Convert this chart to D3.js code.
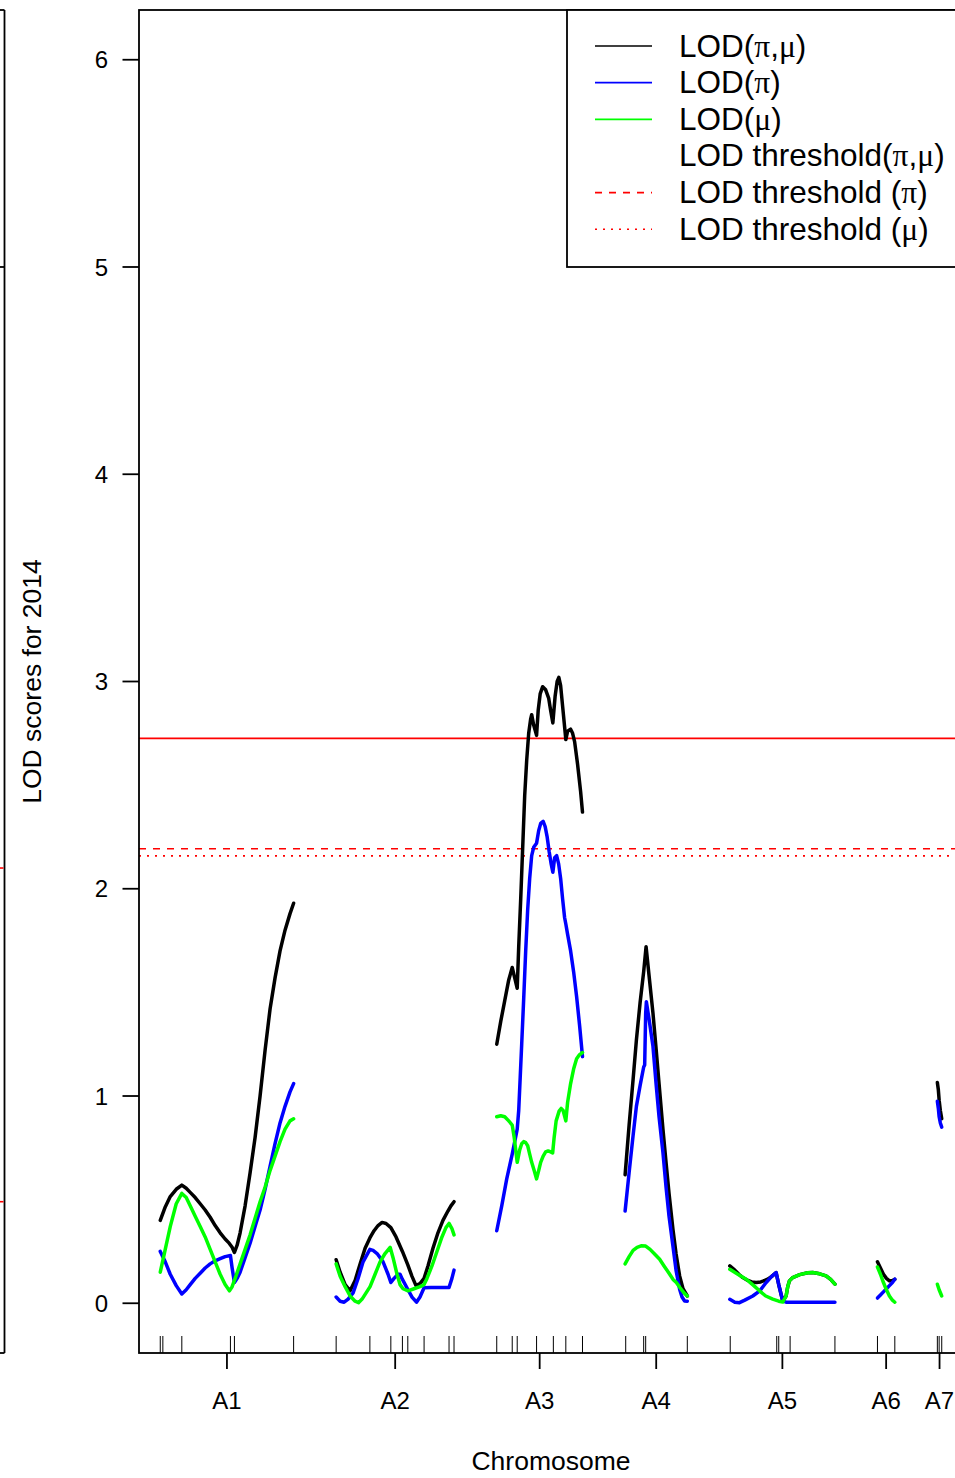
<!DOCTYPE html>
<html><head><meta charset="utf-8">
<script src="https://cdn.jsdelivr.net/npm/d3@7"></script>
<style>
html,body{margin:0;padding:0;background:#fff;}
svg{display:block;font-family:"Liberation Sans",Arial,Helvetica,sans-serif;}
</style></head><body>
<svg id="chart" width="955" height="1478"></svg>
<script>
// ---- genetic map ----
const chromosomes = ["A1","A2","A3","A4","A5","A6","A7"];
const chromLengths = [133.6, 118.3, 86.0, 62.3, 105.3, 17.4, 4.4];   // cM
const markers = [
  ["A1",0],["A1",2.6],["A1",21.6],["A1",70.3],["A1",74.3],["A1",133.6],
  ["A2",0],["A2",33.8],["A2",54.8],["A2",66.4],["A2",71.8],["A2",88.1],["A2",113.1],["A2",118.1],
  ["A3",0],["A3",15.5],["A3",20.5],["A3",39.9],["A3",56.7],["A3",69.2],["A3",85.9],
  ["A4",0.6],["A4",18.6],["A4",20.6],["A4",62.3],
  ["A5",0.4],["A5",47],["A5",49],["A5",60.4],["A5",105.3],
  ["A6",0],["A6",17.4],
  ["A7",0],["A7",1.8],["A7",4.4]
];

// ---- LOD profiles: [chromosome, position (cM), LOD] ----
const lodPiMu = [
  ["A1",0,0.40],["A1",5,0.465],["A1",10,0.515],["A1",16,0.55],["A1",21.6,0.57],["A1",26,0.555],["A1",30,0.535],["A1",35,0.51],["A1",40,0.48],["A1",45,0.45],["A1",50,0.415],["A1",55,0.375],["A1",60,0.34],["A1",65,0.31],["A1",69,0.29],["A1",72,0.27],["A1",74.3,0.245],["A1",77,0.28],["A1",80,0.34],["A1",85,0.47],["A1",90,0.63],["A1",95,0.80],["A1",100,1.0],["A1",105,1.22],["A1",110,1.42],["A1",115,1.57],["A1",120,1.70],["A1",125,1.80],["A1",130,1.88],["A1",133.6,1.93],
  ["A2",0,0.21],["A2",4,0.15],["A2",9,0.09],["A2",14,0.06],["A2",19,0.11],["A2",24,0.19],["A2",29,0.265],["A2",33.8,0.315],["A2",38,0.35],["A2",42,0.375],["A2",46,0.39],["A2",50,0.385],["A2",54.8,0.365],["A2",60,0.32],["A2",66.4,0.25],["A2",71.8,0.185],["A2",76,0.13],["A2",80,0.085],["A2",84,0.095],["A2",88.1,0.12],["A2",92,0.18],["A2",97,0.265],["A2",102,0.34],["A2",107,0.40],["A2",112,0.445],["A2",115,0.47],["A2",118.1,0.49],
  ["A3",0,1.25],["A3",4,1.36],["A3",8,1.46],["A3",12,1.56],["A3",15.5,1.62],["A3",18,1.57],["A3",20.5,1.52],["A3",22,1.72],["A3",24,1.95],["A3",26,2.2],["A3",28,2.45],["A3",30,2.62],["A3",32,2.75],["A3",34,2.82],["A3",35,2.84],["A3",37,2.79],["A3",39.9,2.74],["A3",41.5,2.86],["A3",43.5,2.94],["A3",46,2.975],["A3",49,2.96],["A3",52,2.92],["A3",54,2.86],["A3",56.2,2.80],["A3",58.5,2.93],["A3",60.5,3.0],["A3",62.2,3.02],["A3",64,2.98],["A3",66,2.88],["A3",69.2,2.72],["A3",71,2.76],["A3",74,2.77],["A3",76,2.75],["A3",78,2.71],["A3",81,2.6],["A3",84,2.47],["A3",85.9,2.37],
  ["A4",0,0.62],["A4",4,0.86],["A4",8,1.08],["A4",11.3,1.27],["A4",15,1.45],["A4",18.6,1.6],["A4",21,1.72],["A4",24,1.58],["A4",27.9,1.40],["A4",31,1.23],["A4",34,1.06],["A4",37.9,0.84],["A4",41,0.68],["A4",44,0.53],["A4",47.9,0.357],["A4",51,0.24],["A4",54.6,0.132],["A4",58,0.07],["A4",62.3,0.035],
  ["A5",0,0.18],["A5",5,0.16],["A5",9,0.14],["A5",13,0.124],["A5",18,0.11],["A5",22,0.103],["A5",26.4,0.10],["A5",31,0.103],["A5",35,0.11],["A5",38,0.116],["A5",42,0.13],["A5",46.4,0.148],["A5",49,0.09],["A5",53,0.011],["A5",56.4,0.035],["A5",58,0.08],["A5",59.7,0.108],["A5",63,0.124],["A5",70,0.138],["A5",78,0.147],["A5",83,0.148],["A5",90,0.142],["A5",96.4,0.132],["A5",101,0.115],["A5",105.3,0.092],
  ["A6",0,0.2],["A6",3,0.17],["A6",6,0.14],["A6",9,0.12],["A6",12,0.108],["A6",15,0.11],["A6",17.4,0.116],
  ["A7",0,1.065],["A7",1,1.03],["A7",1.8,0.98],["A7",3,0.93],["A7",4.4,0.89]
];
const lodPi = [
  ["A1",0,0.25],["A1",5,0.20],["A1",10,0.14],["A1",16,0.085],["A1",21.6,0.045],["A1",26,0.065],["A1",30,0.09],["A1",35,0.12],["A1",40,0.145],["A1",45,0.17],["A1",50,0.19],["A1",55,0.205],["A1",60,0.215],["A1",65,0.225],["A1",70.3,0.23],["A1",72,0.17],["A1",74.3,0.10],["A1",77,0.12],["A1",80,0.15],["A1",85,0.22],["A1",90,0.29],["A1",95,0.37],["A1",100,0.45],["A1",105,0.55],["A1",110,0.66],["A1",115,0.77],["A1",120,0.87],["A1",125,0.95],["A1",130,1.02],["A1",133.6,1.06],
  ["A2",0,0.03],["A2",4,0.01],["A2",8,0.005],["A2",12,0.02],["A2",17,0.05],["A2",22,0.12],["A2",27,0.20],["A2",33.8,0.26],["A2",37,0.255],["A2",41,0.24],["A2",47,0.20],["A2",52,0.14],["A2",54.8,0.10],["A2",58,0.12],["A2",62,0.14],["A2",64,0.14],["A2",66.4,0.115],["A2",72,0.065],["A2",76,0.03],["A2",80.5,0.005],["A2",84,0.03],["A2",88.1,0.075],["A2",95,0.076],["A2",105,0.076],["A2",113.1,0.076],["A2",116,0.12],["A2",118.1,0.16],
  ["A3",0,0.35],["A3",5,0.47],["A3",10,0.6],["A3",15.5,0.72],["A3",20.5,0.84],["A3",22,0.93],["A3",23.5,1.09],["A3",25,1.25],["A3",27,1.47],["A3",29,1.7],["A3",31,1.9],["A3",33,2.05],["A3",35,2.16],["A3",37,2.2],["A3",39.9,2.22],["A3",42,2.28],["A3",44,2.315],["A3",46.5,2.325],["A3",48.5,2.3],["A3",50.5,2.25],["A3",52.5,2.18],["A3",54.5,2.12],["A3",56.2,2.08],["A3",58,2.15],["A3",60,2.16],["A3",62,2.12],["A3",64,2.05],["A3",66,1.95],["A3",68,1.86],["A3",69.2,1.83],["A3",71,1.78],["A3",74,1.7],["A3",77,1.6],["A3",80,1.48],["A3",83,1.34],["A3",85.9,1.19],
  ["A4",0,0.445],["A4",4,0.63],["A4",8,0.81],["A4",11.3,0.95],["A4",15,1.05],["A4",18.6,1.14],["A4",19.6,1.15],["A4",20.6,1.40],["A4",21.3,1.455],["A4",24,1.37],["A4",27.9,1.24],["A4",31,1.06],["A4",34,0.9],["A4",37.9,0.727],["A4",41,0.56],["A4",44,0.42],["A4",47.9,0.276],["A4",51,0.16],["A4",54.6,0.068],["A4",57,0.03],["A4",59.6,0.011],["A4",62.3,0.01],
  ["A5",0,0.019],["A5",5,0.005],["A5",9.7,0.003],["A5",15,0.015],["A5",23,0.035],["A5",30,0.06],["A5",36.4,0.10],["A5",42,0.13],["A5",46.4,0.148],["A5",49,0.09],["A5",53,0.011],["A5",56.4,0.005],["A5",70,0.005],["A5",85,0.005],["A5",105.3,0.005],
  ["A6",0,0.025],["A6",3,0.04],["A6",6,0.055],["A6",9,0.07],["A6",12,0.085],["A6",15,0.1],["A6",17.4,0.116],
  ["A7",0,0.975],["A7",1,0.94],["A7",1.8,0.90],["A7",3,0.87],["A7",4.4,0.85]
];
const lodMu = [
  ["A1",0,0.15],["A1",5,0.26],["A1",10,0.37],["A1",16,0.48],["A1",21.6,0.53],["A1",26,0.51],["A1",30,0.47],["A1",35,0.42],["A1",40,0.37],["A1",45,0.32],["A1",50,0.26],["A1",55,0.20],["A1",60,0.14],["A1",65,0.09],["A1",69.3,0.06],["A1",72,0.08],["A1",75,0.12],["A1",80,0.19],["A1",85,0.26],["A1",90,0.33],["A1",95,0.41],["A1",100,0.49],["A1",105,0.56],["A1",110,0.64],["A1",115,0.71],["A1",120,0.78],["A1",125,0.84],["A1",130,0.88],["A1",133.6,0.89],
  ["A2",0,0.19],["A2",4,0.13],["A2",9,0.08],["A2",14,0.035],["A2",19,0.01],["A2",22.4,0.003],["A2",26,0.02],["A2",30,0.05],["A2",34,0.08],["A2",39,0.14],["A2",44,0.2],["A2",49,0.24],["A2",54.1,0.27],["A2",57,0.22],["A2",61,0.14],["A2",64,0.09],["A2",67,0.07],["A2",72,0.06],["A2",78,0.07],["A2",84,0.08],["A2",88.1,0.09],["A2",91,0.12],["A2",96,0.18],["A2",101,0.25],["A2",106,0.32],["A2",110,0.365],["A2",113.1,0.385],["A2",116,0.36],["A2",118.1,0.33],
  ["A3",0,0.90],["A3",4,0.905],["A3",8,0.90],["A3",12,0.88],["A3",15.5,0.86],["A3",17.5,0.80],["A3",20.5,0.68],["A3",23,0.74],["A3",25,0.77],["A3",27,0.78],["A3",29,0.775],["A3",31,0.76],["A3",33,0.72],["A3",35,0.68],["A3",37.5,0.64],["A3",39.9,0.60],["A3",42,0.64],["A3",44,0.68],["A3",46.5,0.71],["A3",49,0.73],["A3",51.5,0.735],["A3",54,0.73],["A3",56,0.725],["A3",57.5,0.80],["A3",59.5,0.88],["A3",62.5,0.927],["A3",64.5,0.94],["A3",66.5,0.93],["A3",69.2,0.88],["A3",71,0.97],["A3",74,1.06],["A3",77,1.13],["A3",80,1.18],["A3",83,1.2],["A3",85.9,1.21],
  ["A4",0,0.19],["A4",4,0.225],["A4",8,0.255],["A4",12,0.27],["A4",16,0.277],["A4",20.6,0.276],["A4",25,0.26],["A4",30,0.235],["A4",34.6,0.212],["A4",39,0.18],["A4",44,0.145],["A4",48,0.115],["A4",51.3,0.10],["A4",55,0.075],["A4",59,0.05],["A4",62.3,0.035],
  ["A5",0,0.164],["A5",8,0.14],["A5",16.4,0.116],["A5",24,0.085],["A5",29.7,0.06],["A5",36,0.035],["A5",43,0.02],["A5",49,0.01],["A5",53,0.006],["A5",56.4,0.035],["A5",58,0.08],["A5",59.7,0.108],["A5",63,0.124],["A5",70,0.138],["A5",78,0.147],["A5",83,0.148],["A5",90,0.142],["A5",96.4,0.132],["A5",101,0.115],["A5",105.3,0.092],
  ["A6",0,0.175],["A6",3,0.14],["A6",6,0.1],["A6",9,0.065],["A6",12,0.035],["A6",15,0.015],["A6",17.4,0.005],
  ["A7",0,0.092],["A7",1.8,0.065],["A7",4.4,0.035]
];

// ---- genome-wide thresholds ----
const thresholdPiMu = 2.726;
const thresholdPi = 2.193;
const thresholdMu = 2.159;
// thresholds of the neighbouring panel, whose right edge shows at the left
const neighbourThresholds = [2.10, 0.49];

const yTicks = [0, 1, 2, 3, 4, 5, 6];
const legendLabels = ["LOD(π,μ)", "LOD(π)", "LOD(μ)", "LOD threshold(π,μ)", "LOD threshold (π)", "LOD threshold (μ)"];

// ---- layout ----
const svg = d3.select("#chart");
const M = {left: 139, right: 963, top: 10, bottom: 1353};
const chromGap = 42.6;
const fsTick = 24, fsLab = 26.5, fsLegend = 31.5;
const dashPi = "7,7", dashMu = "2,6";

const chromStart = {};
let acc = 0;
chromosomes.forEach((c, i) => { chromStart[c] = acc; acc += chromLengths[i] + chromGap; });
const genomeEnd = acc - chromGap;

const x = d3.scaleLinear().domain([-chromGap / 2, genomeEnd + chromGap / 2]).range([M.left, M.right]);
const y = d3.scaleLinear().domain([-0.24, 6.24]).range([M.bottom, M.top]);

const greekRuns = (sel, str) => {
  str.split(/([πμ])/).filter(s => s.length).forEach(s => {
    const t = sel.append("tspan").text(s);
    if (/[πμ]/.test(s)) t.attr("font-family", "'Liberation Serif','DejaVu Serif',serif");
  });
};

// neighbouring panel edge
const prev = svg.append("g");
const prevX = 4.5;
prev.append("line").attr("x1", prevX).attr("x2", prevX).attr("y1", M.top).attr("y2", M.bottom)
  .attr("stroke", "#000").attr("stroke-width", 1.8);
prev.append("line").attr("x1", 0).attr("x2", prevX).attr("y1", M.top).attr("y2", M.top)
  .attr("stroke", "#000").attr("stroke-width", 1.8);
prev.append("line").attr("x1", 0).attr("x2", prevX).attr("y1", M.bottom).attr("y2", M.bottom)
  .attr("stroke", "#000").attr("stroke-width", 1.8);
prev.append("line").attr("x1", 0).attr("x2", prevX).attr("y1", y(5)).attr("y2", y(5))
  .attr("stroke", "#000").attr("stroke-width", 1.8);
prev.selectAll("line.thr").data(neighbourThresholds).join("line").attr("class", "thr")
  .attr("x1", 0).attr("x2", prevX - 1).attr("y1", d => y(d)).attr("y2", d => y(d))
  .attr("stroke", "#ff0000").attr("stroke-width", 1.6);

// threshold lines
const thr = svg.append("g");
const thrSpecs = [
  {v: thresholdPiMu, dash: null},
  {v: thresholdPi, dash: dashPi},
  {v: thresholdMu, dash: dashMu}
];
thr.selectAll("line").data(thrSpecs).join("line")
  .attr("x1", M.left).attr("x2", M.right)
  .attr("y1", d => y(d.v)).attr("y2", d => y(d.v))
  .attr("stroke", "#ff0000").attr("stroke-width", 1.7)
  .attr("stroke-dasharray", d => d.dash);

// LOD curves
const line = d3.line().x(d => x(chromStart[d[0]] + d[1])).y(d => y(d[2]));
const curves = svg.append("g").attr("fill", "none").attr("stroke-width", 3.5)
  .attr("stroke-linejoin", "round").attr("stroke-linecap", "round");
[[lodPiMu, "#000000"], [lodPi, "#0000ff"], [lodMu, "#00ff00"]].forEach(([series, col]) => {
  chromosomes.forEach(c => {
    const pts = series.filter(d => d[0] === c);
    if (pts.length) curves.append("path").attr("d", line(pts)).attr("stroke", col);
  });
});

// plot frame
svg.append("rect").attr("x", M.left).attr("y", M.top)
  .attr("width", M.right - M.left).attr("height", M.bottom - M.top)
  .attr("fill", "none").attr("stroke", "#000").attr("stroke-width", 1.8);

// y axis
const ya = svg.append("g");
ya.selectAll("line").data(yTicks).join("line")
  .attr("x1", M.left - 16.5).attr("x2", M.left).attr("y1", d => y(d)).attr("y2", d => y(d))
  .attr("stroke", "#000").attr("stroke-width", 1.8);
ya.selectAll("text").data(yTicks).join("text")
  .attr("x", M.left - 31).attr("y", d => y(d) + fsTick * 0.358)
  .attr("text-anchor", "end").attr("font-size", fsTick).text(d => d);

// marker rug
svg.append("g").selectAll("line").data(markers).join("line")
  .attr("x1", d => x(chromStart[d[0]] + d[1])).attr("x2", d => x(chromStart[d[0]] + d[1]))
  .attr("y1", M.bottom).attr("y2", M.bottom - 17)
  .attr("stroke", "#000").attr("stroke-width", 1);

// chromosome ticks and labels
const mids = chromosomes.map((c, i) => ({c, m: chromStart[c] + chromLengths[i] / 2}));
const xa = svg.append("g");
xa.selectAll("line").data(mids).join("line")
  .attr("x1", d => x(d.m)).attr("x2", d => x(d.m)).attr("y1", M.bottom).attr("y2", M.bottom + 16)
  .attr("stroke", "#000").attr("stroke-width", 1.8);
xa.selectAll("text").data(mids).join("text")
  .attr("x", d => x(d.m)).attr("y", 1409).attr("text-anchor", "middle")
  .attr("font-size", fsTick).text(d => d.c);

// axis titles
svg.append("text").attr("x", (M.left + M.right) / 2).attr("y", 1470)
  .attr("text-anchor", "middle").attr("font-size", fsLab).text("Chromosome");
svg.append("text").attr("transform", `translate(41,${(M.top + M.bottom) / 2}) rotate(-90)`)
  .attr("text-anchor", "middle").attr("font-size", fsLab).text("LOD scores for 2014");

// legend
const lg = svg.append("g");
lg.append("rect").attr("x", 567).attr("y", M.top).attr("width", M.right - 567).attr("height", 267 - M.top)
  .attr("fill", "#fff").attr("stroke", "#000").attr("stroke-width", 1.8);
const legendStyles = [
  {col: "#000000", dash: null},
  {col: "#0000ff", dash: null},
  {col: "#00ff00", dash: null},
  null,
  {col: "#ff0000", dash: dashPi},
  {col: "#ff0000", dash: dashMu}
];
legendLabels.forEach((lab, i) => {
  const cy = 46 + i * 36.65;
  const st = legendStyles[i];
  if (st) lg.append("line").attr("x1", 595).attr("x2", 652).attr("y1", cy).attr("y2", cy)
    .attr("stroke", st.col).attr("stroke-width", 1.7).attr("stroke-dasharray", st.dash);
  const t = lg.append("text").attr("x", 679).attr("y", cy + 10.5).attr("font-size", fsLegend);
  greekRuns(t, lab);
});
</script>
</body></html>
